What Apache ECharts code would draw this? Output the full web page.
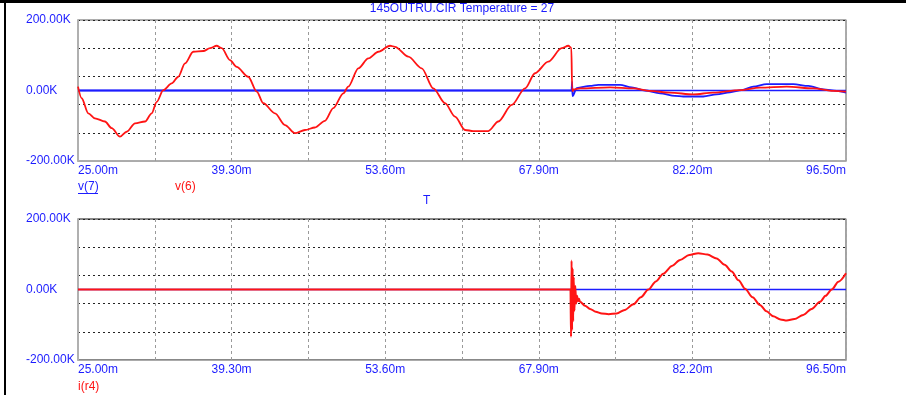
<!DOCTYPE html>
<html>
<head>
<meta charset="utf-8">
<script src="https://cdn.jsdelivr.net/npm/echarts@6/dist/echarts.min.js"></script>
<style>
  html, body { margin: 0; padding: 0; background: #fff; }
  #chart { width: 906px; height: 395px; }
</style>
</head>
<body>
<div id="chart"></div>
<script>
// Transient simulation traces: time in ms, values in K.
const v6Time = [25.00, 25.34, 25.96, 26.58, 27.51, 28.14, 28.91, 29.53, 30.31, 31.24, 31.86, 32.33, 32.94, 33.72, 34.34, 34.96, 35.73, 36.67, 37.29, 37.91, 38.38, 39.15, 39.77, 40.85, 41.64, 42.25, 43.34, 44.27, 45.20, 46.13, 47.06, 47.99, 48.77, 49.70, 50.16, 51.10, 52.03, 52.96, 54.05, 54.51, 55.75, 57.00, 58.08, 59.17, 60.10, 61.03, 61.80, 63.20, 64.13, 65.38, 66.62, 67.55, 68.78, 70.03, 70.65, 70.93, 71.00, 71.06, 71.15, 71.74, 74.53, 76.70, 78.25, 80.11, 82.28, 84.14, 86.63, 88.49, 90.98, 93.46, 95.32, 96.50];
const v6Vals = [11, -22, -65, -79, -88, -107, -131, -117, -93, -88, -65, -32, 1, 20, 39, 77, 110, 112, 120, 127, 120, 86, 67, 39, -3, -36, -65, -98, -121, -112, -105, -86, -50, -8, 11, 63, 91, 110, 127, 124, 96, 63, 6, -36, -74, -112, -115, -115, -88, -41, 6, 49, 82, 120, 127, 121, 8, -2, 3, 6, 9, 6, -1, -6, -11, -6, 1, 8, 11, 6, -1, -3];

const v7Time = [25.00, 70.95, 71.00, 71.04, 71.43, 72.67, 73.44, 75.46, 76.55, 77.79, 79.19, 80.58, 81.35, 83.21, 84.46, 85.70, 86.79, 87.87, 89.12, 91.59, 92.99, 94.39, 95.63, 96.50];
const v7Vals = [0, 0, 25, -16, 7, 13, 16, 16, 9, 0, -8, -15, -17, -17, -11, -5, 1, 11, 18, 18, 13, 3, -1, -6];

const ir4Time = [25.00, 70.85, 70.90, 70.95, 71.00, 71.05, 71.10, 71.15, 71.22, 71.30, 71.38, 71.46, 71.55, 71.64, 71.74, 72.20, 72.67, 73.20, 73.76, 74.40, 75.15, 75.90, 76.70, 77.40, 78.10, 78.80, 79.49, 80.30, 81.05, 81.90, 82.75, 83.60, 84.46, 85.20, 85.86, 86.50, 87.10, 87.80, 88.49, 89.10, 89.73, 90.40, 90.98, 91.70, 92.52, 93.30, 94.08, 94.60, 95.17, 95.80, 96.50];
const ir4Vals = [0, 0, -134, 82, -115, 60, -90, 35, -60, 10, -40, -18, -33, -26, -35, -46, -55, -63, -68, -70, -68, -58, -42, -22, 0, 23, 45, 67, 84, 98, 103, 99, 88, 70, 51, 26, 2, -22, -44, -62, -76, -85, -88, -84, -72, -55, -35, -18, 0, 22, 46];

// Axis ranges
const X_MIN = 25, X_MAX = 96.5, X_STEP = 7.15;
const Y_MIN = -200, Y_MAX = 200, Y_GRID_STEP = 80, Y_LABEL_STEP = 200;

const TITLE = '145OUTRU.CIR Temperature = 27';

const BLUE = '#1c1cff';
const RED = '#ff1414';
const FRAME = '#ababab';
const FONT = '"Liberation Sans", Arial, sans-serif';

const pairs = (t, v) => t.map((x, i) => [x, v[i]]);
// horizontal zero reference across the full time span
const baseline = [[X_MIN, 0], [X_MAX, 0]];

function xAxisFor(g) {
  return {
    gridIndex: g, type: 'value', min: X_MIN, max: X_MAX, interval: X_STEP, position: 'bottom',
    axisLine: { onZero: false, lineStyle: { color: FRAME, width: 1 } },
    axisTick: { show: false },
    axisLabel: {
      color: BLUE, fontFamily: FONT, fontSize: 12, margin: 4,
      alignMinLabel: 'left', alignMaxLabel: 'right',
      formatter: (v, i) => (i % 2 === 0 ? v.toFixed(2) + 'm' : '')
    },
    splitLine: { show: true, lineStyle: { color: '#9a9a9a', type: [3, 3], width: 1 } }
  };
}

function yAxesFor(g) {
  return [
    {
      gridIndex: g, type: 'value', min: Y_MIN, max: Y_MAX, interval: Y_GRID_STEP, position: 'left',
      axisLine: { show: true, onZero: false, lineStyle: { color: '#b0b0b0', width: 2 } },
      axisTick: { show: false }, axisLabel: { show: false },
      splitLine: { show: true, lineStyle: { color: '#222', type: [2, 3], width: 1 } }
    },
    {
      gridIndex: g, type: 'value', min: Y_MIN, max: Y_MAX, interval: Y_LABEL_STEP, position: 'left',
      axisLine: { show: false, onZero: false }, axisTick: { show: false },
      axisLabel: {
        color: BLUE, fontFamily: FONT, fontSize: 12, align: 'left', margin: 52,
        formatter: v => v.toFixed(2) + 'K'
      },
      splitLine: { show: false }
    },
    {
      // right edge of the plot frame
      gridIndex: g, type: 'value', min: Y_MIN, max: Y_MAX, position: 'right',
      axisLine: { show: true, onZero: false, lineStyle: { color: FRAME, width: 1.5 } },
      axisTick: { show: false }, axisLabel: { show: false }, splitLine: { show: false }
    }
  ];
}

const lineSeries = (name, data, color, xi, yi, width, smooth) => ({
  name, type: 'line', data, xAxisIndex: xi, yAxisIndex: yi,
  showSymbol: false, symbol: 'none', animation: false, silent: true,
  smooth: smooth || false, smoothMonotone: 'x',
  lineStyle: { color, width }
});

const label = (text, left, top, color, align) => ({
  text, left, top, padding: 0, textAlign: align || 'left',
  textStyle: { color, fontFamily: FONT, fontSize: 12, fontWeight: 'normal' }
});

const chart = echarts.init(document.getElementById('chart'), null, { renderer: 'canvas' });

chart.setOption({
  backgroundColor: '#fff',
  animation: false,
  title: [
    label(TITLE, 462, 3, BLUE, 'center'),
    label('v(7)', 78, 181, BLUE),
    label('v(6)', 175, 181, RED),
    label('T', 423, 195, BLUE),
    label('i(r4)', 78, 381, RED)
  ],
  grid: [
    { left: 78, right: 60, top: 20, height: 141, show: true, borderColor: '#5a5a5a', borderWidth: 1, backgroundColor: 'transparent' },
    { left: 78, right: 60, top: 219, height: 141, show: true, borderColor: '#111', borderWidth: 1, backgroundColor: 'transparent' }
  ],
  xAxis: [xAxisFor(0), xAxisFor(1)],
  yAxis: [...yAxesFor(0), ...yAxesFor(1)],
  series: [
    lineSeries('zero-upper', baseline, BLUE, 0, 0, 1.4),
    lineSeries('v(7)', pairs(v7Time, v7Vals), BLUE, 0, 0, 1.8, 0.3),
    lineSeries('v(6)', pairs(v6Time, v6Vals), RED, 0, 0, 1.8, 0.3),
    lineSeries('zero-lower', baseline, BLUE, 1, 3, 1.4),
    lineSeries('i(r4)', pairs(ir4Time, ir4Vals), RED, 1, 3, 2, 0.3)
  ],
  graphic: [
    // page frame
    { type: 'rect', shape: { x: 0, y: 0, width: 906, height: 3 }, style: { fill: '#000' }, silent: true },
    { type: 'rect', shape: { x: 4, y: 0, width: 2, height: 395 }, style: { fill: '#000' }, silent: true },
    // underline of the v(7) caption
    { type: 'line', shape: { x1: 78, y1: 193.5, x2: 98, y2: 193.5 }, style: { stroke: BLUE, lineWidth: 1 }, silent: true }
  ]
});
</script>
</body>
</html>
